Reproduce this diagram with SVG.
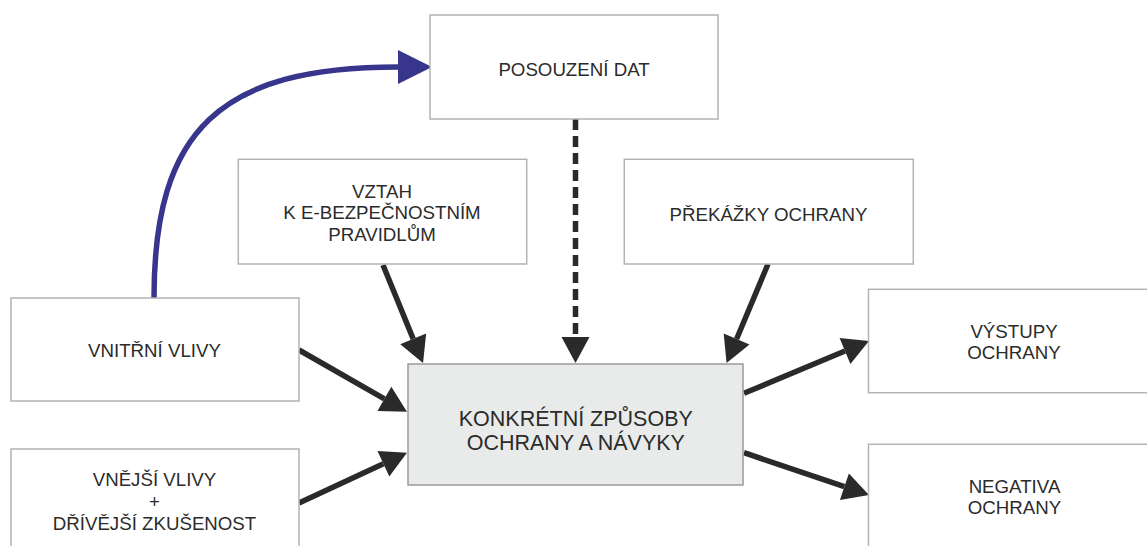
<svg xmlns="http://www.w3.org/2000/svg" width="1147" height="546" viewBox="0 0 1147 546">
<style>
  .box { fill: #ffffff; stroke: #b3b3b3; stroke-width: 1.5; }
  .main { fill: #e9eaea; stroke: #9a9a9a; stroke-width: 1.5; }
  .t { font-family: "Liberation Sans", Arial, sans-serif; font-size: 18.7px; fill: #2b2b2b; text-anchor: middle; }
  .tm { font-family: "Liberation Sans", Arial, sans-serif; font-size: 21.5px; fill: #2b2b2b; text-anchor: middle; }
  .arr { fill: none; stroke: #2a2a2a; stroke-width: 5.5; marker-end: url(#ah); }
  .dash { stroke-dasharray: 11 6; }
  .blue { fill: none; stroke: #37358c; stroke-width: 5.5; marker-end: url(#ahb); }
</style>
<defs>
  <marker id="ah" markerUnits="userSpaceOnUse" markerWidth="28" markerHeight="30" refX="0" refY="14" orient="auto" overflow="visible">
    <path d="M0,0 L26,14 L0,28 z" fill="#2a2a2a"/>
  </marker>
  <marker id="ahb" markerUnits="userSpaceOnUse" markerWidth="36" markerHeight="36" refX="0" refY="17" orient="auto" overflow="visible">
    <path d="M0,0 L34,17 L0,34 z" fill="#37358c"/>
  </marker>
</defs>
<rect width="1147" height="546" fill="#ffffff"/>

<g id="connectors">
  <path class="blue" d="M154,298 C154,130 220,67 398,67"/>
  <line class="arr dash" x1="575.5" y1="119" x2="575.5" y2="337"/>
  <line class="arr" x1="383" y1="265" x2="413.2" y2="338.9"/>
  <line class="arr" x1="768" y1="264" x2="736.6" y2="339"/>
  <line class="arr" x1="299" y1="350" x2="384.4" y2="398.8"/>
  <line class="arr" x1="299" y1="503" x2="383.4" y2="463.7"/>
  <line class="arr" x1="744" y1="393.3" x2="845" y2="351"/>
  <line class="arr" x1="744" y1="452.7" x2="844.4" y2="486.7"/>
</g>

<g id="posouzeni">
  <rect class="box" x="430" y="15" width="288" height="104"/>
  <text class="t" x="574" y="76">POSOUZENÍ DAT</text>
</g>
<g id="vztah">
  <rect class="box" x="238.3" y="159.3" width="288.4" height="104.7"/>
  <text class="t" x="382" y="197.7">VZTAH</text>
  <text class="t" x="382" y="218.8">K E-BEZPEČNOSTNÍM</text>
  <text class="t" x="382" y="240.5">PRAVIDLŮM</text>
</g>
<g id="prekazky">
  <rect class="box" x="624.3" y="159.3" width="289" height="104.7"/>
  <text class="t" x="768.5" y="221">PŘEKÁŽKY OCHRANY</text>
</g>
<g id="vnitrni">
  <rect class="box" x="11" y="298" width="288" height="103"/>
  <text class="t" x="154.5" y="357">VNITŘNÍ VLIVY</text>
</g>
<g id="vnejsi">
  <rect class="box" x="11" y="449" width="288" height="120"/>
  <text class="t" x="154.5" y="486">VNĚJŠÍ VLIVY</text>
  <text class="t" x="154.5" y="508">+</text>
  <text class="t" x="154.5" y="530">DŘÍVĚJŠÍ ZKUŠENOST</text>
</g>
<g id="konkretni">
  <rect class="main" x="408" y="364" width="335" height="121"/>
  <text class="tm" x="575.8" y="426">KONKRÉTNÍ ZPŮSOBY</text>
  <text class="tm" x="575.8" y="450">OCHRANY A NÁVYKY</text>
</g>
<g id="vystupy">
  <rect class="box" x="868.5" y="289.3" width="300" height="103.4"/>
  <text class="t" x="1014" y="338.3">VÝSTUPY</text>
  <text class="t" x="1014" y="359">OCHRANY</text>
</g>
<g id="negativa">
  <rect class="box" x="868.5" y="444.3" width="300" height="130"/>
  <text class="t" x="1014.5" y="493.3">NEGATIVA</text>
  <text class="t" x="1014.5" y="514.3">OCHRANY</text>
</g>
</svg>
